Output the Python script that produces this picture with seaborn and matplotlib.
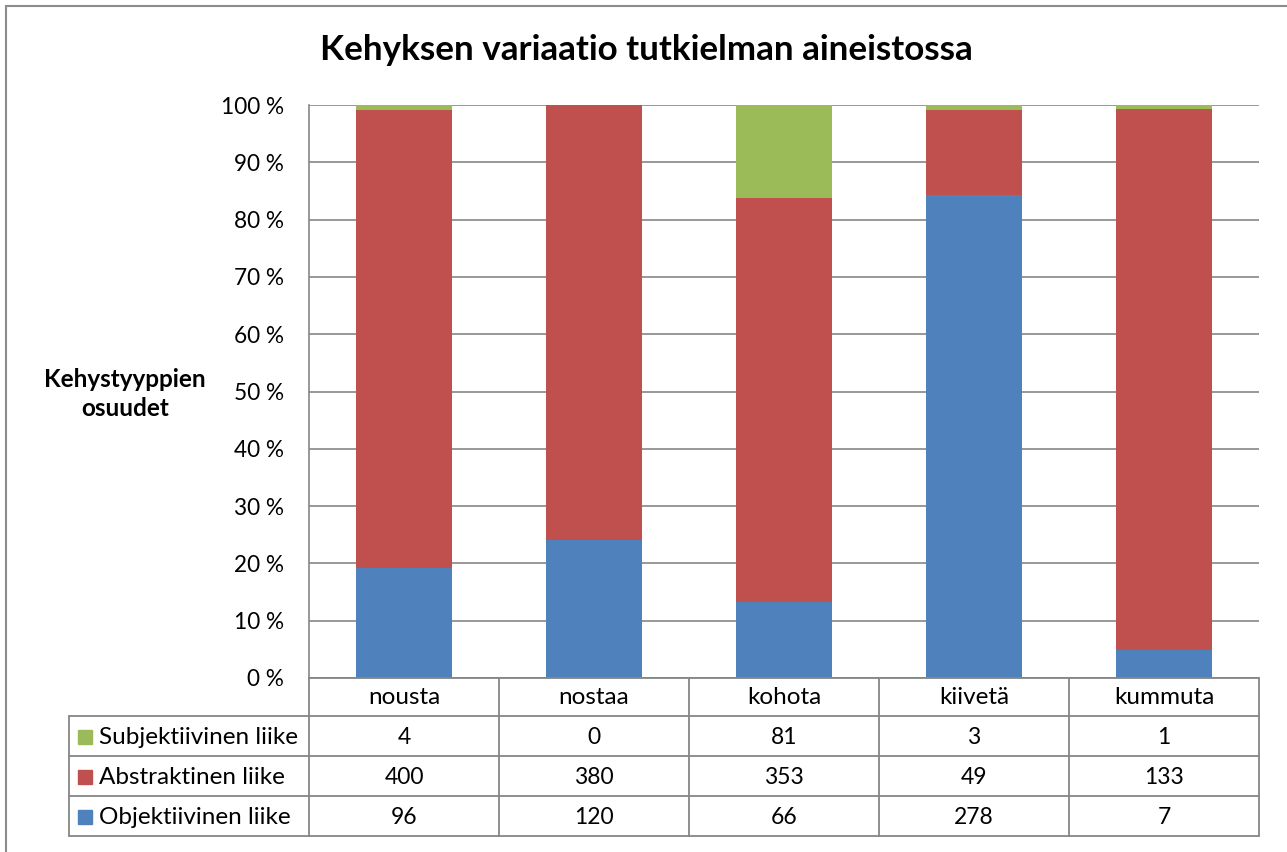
import numpy as np
import seaborn as sns
import matplotlib.pyplot as plt
from matplotlib.patches import Rectangle

# data
verbs = ["nousta", "nostaa", "kohota", "kiivetä", "kummuta"]
series = ["Subjektiivinen liike", "Abstraktinen liike", "Objektiivinen liike"]
subj = [4, 0, 81, 3, 1]
abstr = [400, 380, 353, 49, 133]
obj = [96, 120, 66, 278, 7]
colors = ["#9BBB59", "#C0504D", "#4F81BD"]
yticks = [0, 10, 20, 30, 40, 50, 60, 70, 80, 90, 100]

sns.set_style("white")
plt.rcParams["font.family"] = ["Lato", "DejaVu Sans"]
plt.rcParams["text.color"] = "black"
plt.rcParams["ytick.color"] = "black"

W, H = 1287, 852
fig = plt.figure(figsize=(W / 100, H / 100), dpi=100)

# plot area in pixels
px0, px1, py0, py1 = 309, 1259, 105, 678
ax = fig.add_axes([px0 / W, 1 - py1 / H, (px1 - px0) / W, (py1 - py0) / H])

subj = np.array(subj, dtype=float)
abstr = np.array(abstr, dtype=float)
obj = np.array(obj, dtype=float)
total = subj + abstr + obj
p_obj = obj / total * 100
p_abs = abstr / total * 100
p_sub = subj / total * 100

# stacked by overlaying cumulative bars
sns.barplot(x=verbs, y=p_obj + p_abs + p_sub, color=colors[0], saturation=1,
            width=0.51, linewidth=0, ax=ax, zorder=2)
sns.barplot(x=verbs, y=p_obj + p_abs, color=colors[1], saturation=1,
            width=0.51, linewidth=0, ax=ax, zorder=3)
sns.barplot(x=verbs, y=p_obj, color=colors[2], saturation=1,
            width=0.51, linewidth=0, ax=ax, zorder=4)

ax.set_xlim(-0.5, len(verbs) - 0.5)
ax.set_ylim(0, 100)
ax.set_yticks(yticks)
ax.set_yticklabels([f"{t} %" for t in yticks], fontsize=16.3)
ax.tick_params(axis="y", length=0, pad=18)
ax.set_xticks([])
ax.set_xlabel("")
ax.set_ylabel("")
ax.grid(axis="y", color="#868686", linewidth=1.2, zorder=0)
ax.set_axisbelow(True)
for s in ["top", "right", "bottom"]:
    ax.spines[s].set_visible(False)
ax.spines["left"].set_color("#868686")
ax.spines["left"].set_linewidth(1.2)

fig.text(646 / W, 1 - 50 / H, "Kehyksen variaatio tutkielman aineistossa",
         ha="center", va="center", fontsize=25.2, fontweight="bold")
fig.text(125 / W, 1 - 394 / H, "Kehystyyppien\nosuudet", ha="center", va="center",
         fontsize=17.5, fontweight="bold", linespacing=1.35)

# data table below the chart, drawn in pixel coordinates
tab = fig.add_axes([0, 0, 1, 1], zorder=5)
tab.set_xlim(0, W)
tab.set_ylim(H, 0)
tab.axis("off")
tab.patch.set_alpha(0)

lc = "#868686"
lw = 1.3
col_w = (px1 - px0) / len(verbs)
row_y = [678, 716, 756, 796, 836]
leg_x = 69

# outer frame of figure
tab.plot([6, 6], [6, H], color="#8c8c8c", lw=1.5)
tab.plot([6, W], [6, 6], color="#8c8c8c", lw=1.5)

tab.plot([px0, px1], [row_y[0], row_y[0]], color=lc, lw=lw)
for y in row_y[1:]:
    tab.plot([leg_x, px1], [y, y], color=lc, lw=lw)
tab.plot([leg_x, leg_x], [row_y[1], row_y[-1]], color=lc, lw=lw)
for i in range(len(verbs) + 1):
    x = px0 + i * col_w
    tab.plot([x, x], [row_y[0], row_y[-1]], color=lc, lw=lw)

for i, v in enumerate(verbs):
    tab.text(px0 + (i + 0.5) * col_w, (row_y[0] + row_y[1]) / 2 + 1, v,
             ha="center", va="center", fontsize=17.5)

rows = [subj, abstr, obj]
for r, (name, vals, c) in enumerate(zip(series, rows, colors)):
    yc = (row_y[r + 1] + row_y[r + 2]) / 2 + 1
    tab.add_patch(Rectangle((78, yc - 7), 14, 14, color=c))
    tab.text(99, yc, name, ha="left", va="center", fontsize=17.5)
    for i, v in enumerate(vals):
        tab.text(px0 + (i + 0.5) * col_w, yc, f"{int(v)}",
                 ha="center", va="center", fontsize=16.5)

fig.savefig("out.png", dpi=100)
